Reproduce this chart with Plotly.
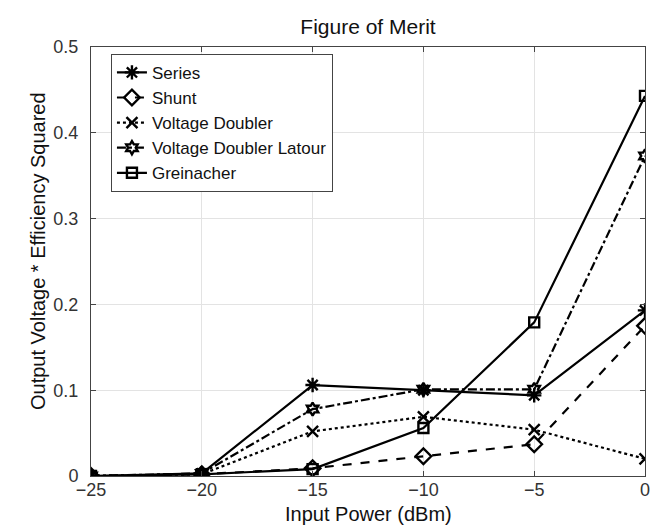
import plotly.graph_objects as go

power_dbm = [-25, -20, -15, -10, -5, 0]
series = [0.0, 0.003, 0.106, 0.100, 0.094, 0.193]
shunt = [0.0, 0.002, 0.009, 0.023, 0.037, 0.175]
voltage_doubler = [0.0, 0.002, 0.052, 0.069, 0.054, 0.020]
vd_latour = [0.0, 0.003, 0.078, 0.101, 0.101, 0.373]
greinacher = [0.0, 0.002, 0.008, 0.056, 0.179, 0.443]

names = ["Series", "Shunt", "Voltage Doubler", "Voltage Doubler Latour", "Greinacher"]
data = [series, shunt, voltage_doubler, vd_latour, greinacher]
dashes = ["solid", "dash", "dot", "dashdot", "solid"]
symbols = ["asterisk-open", "diamond-open", "x-thin-open", "hexagram-open", "square-open"]
sizes = [12, 12, 11, 10, 10]

FONT = "Liberation Sans, Arial, Helvetica"

fig = go.Figure()
for n, d, ds, sy, sz in zip(names, data, dashes, symbols, sizes):
    fig.add_trace(go.Scatter(
        x=power_dbm, y=d, name=n, mode="lines+markers",
        line=dict(color="black", width=2.2, dash=ds),
        marker=dict(symbol=sy, size=sz, color="black", line=dict(color="black", width=2.4)),
    ))

axis_common = dict(
    showline=True, linecolor="#444444", linewidth=1, mirror="ticks",
    ticks="inside", ticklen=5, tickcolor="#444444",
    showgrid=True, gridcolor="#e3e3e3", gridwidth=1, zeroline=False,
    tickfont=dict(family=FONT, size=18, color="#333333"),
)

fig.update_layout(
    width=659, height=529,
    margin=dict(l=83, r=22, t=39, b=61),
    paper_bgcolor="white", plot_bgcolor="white",
    title=dict(text="Figure of Merit", x=0.5, xref="paper", xanchor="center",
               y=0.978, yref="container", yanchor="top",
               font=dict(family=FONT, size=21, color="#111111")),
    xaxis=dict(range=[-25, 0], tickvals=[-25, -20, -15, -10, -5, 0],
               ticklabelstandoff=-3, **axis_common),
    yaxis=dict(range=[0, 0.5], tickvals=[0, 0.1, 0.2, 0.3, 0.4, 0.5],
               ticktext=["0", "0.1", "0.2", "0.3", "0.4", "0.5"],
               ticklabelstandoff=8, **axis_common),
    legend=dict(x=0.036, y=0.984, xanchor="left", yanchor="top",
                bgcolor="white", bordercolor="#444444", borderwidth=1,
                font=dict(family=FONT, size=17, color="#111111"),
                tracegroupgap=0, itemwidth=30),
    showlegend=True,
    annotations=[
        dict(text="Input Power (dBm)", xref="paper", yref="paper",
             x=0.5, y=-0.088, xanchor="center", yanchor="middle", showarrow=False,
             font=dict(family=FONT, size=20, color="#111111")),
        dict(text="Output Voltage * Efficiency Squared", xref="paper", yref="paper",
             x=-0.096, y=0.524, xanchor="center", yanchor="middle", showarrow=False,
             textangle=-90, font=dict(family=FONT, size=20, color="#111111")),
    ],
)

fig.write_html("out.html")
